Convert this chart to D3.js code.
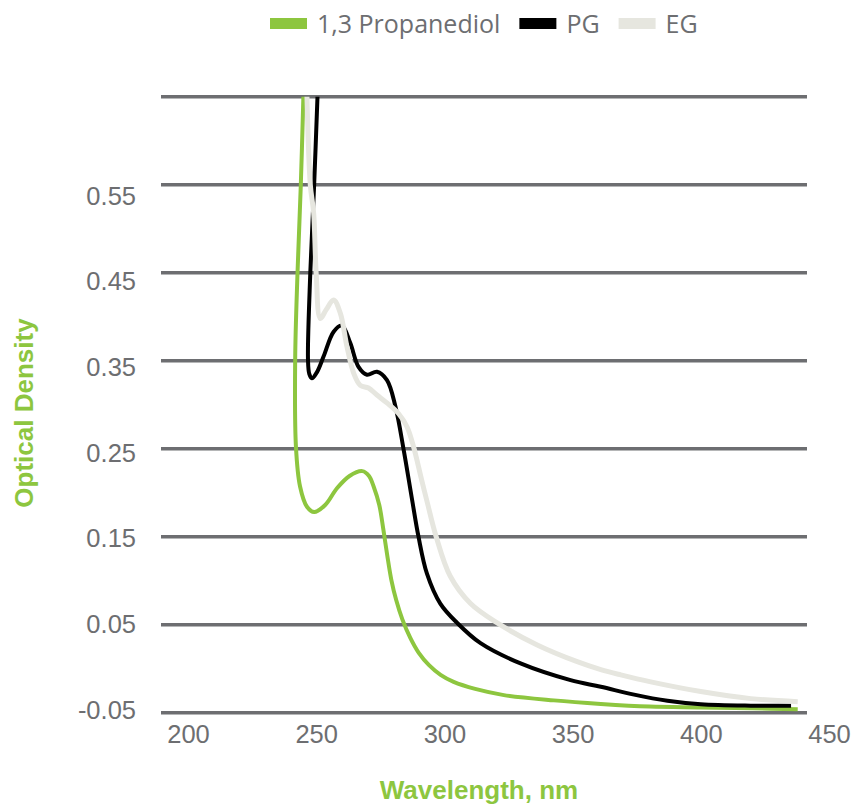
<!DOCTYPE html>
<html>
<head>
<meta charset="utf-8">
<script src="https://cdn.jsdelivr.net/npm/d3@7/dist/d3.min.js"></script>
<style>
  html, body { margin: 0; padding: 0; background: #ffffff; }
  svg { display: block; }
</style>
</head>
<body>
<svg id="chart" width="858" height="805"></svg>
<script>
// ---------- data ----------
const seriesNames = ["1,3 Propanediol", "PG", "EG"];
const seriesColors = ["#8dc63f", "#000000", "#e6e6df"];

const wavelengthTicks = [200, 250, 300, 350, 400, 450];
const odTicks = [-0.05, 0.05, 0.15, 0.25, 0.35, 0.45, 0.55];
const gridValues = [-0.05, 0.05, 0.15, 0.25, 0.35, 0.45, 0.55, 0.65];

// [wavelength nm, optical density]
const propanediol = [
  [245.0, 0.65], [244.0, 0.55], [242.7, 0.449], [241.8, 0.351], [242.1, 0.252],
  [243.7, 0.207], [246.4, 0.184], [249.2, 0.178], [253.5, 0.186], [258.1, 0.205],
  [263.0, 0.219], [268.0, 0.2245], [270.6, 0.219], [272.4, 0.207], [274.6, 0.186],
  [276.2, 0.158], [277.7, 0.129], [279.3, 0.101], [281.2, 0.078], [283.6, 0.056],
  [286.7, 0.035], [290.0, 0.018], [294.0, 0.004], [298.5, -0.007], [303.6, -0.015],
  [312.0, -0.023], [323.2, -0.030], [342.7, -0.036], [361.0, -0.040], [380.0, -0.043],
  [400.0, -0.044], [420.0, -0.045], [437.8, -0.046]
];
const pg = [
  [250.5, 0.65], [249.2, 0.55], [247.7, 0.45], [246.8, 0.351], [247.3, 0.335],
  [248.3, 0.330], [250.3, 0.337], [252.9, 0.355], [256.8, 0.383], [260.0, 0.390],
  [263.3, 0.370], [266.5, 0.343], [269.8, 0.334], [273.7, 0.3375], [277.6, 0.328],
  [280.9, 0.298], [284.1, 0.249], [287.4, 0.192], [289.9, 0.150], [293.2, 0.108],
  [298.4, 0.074], [305.0, 0.052], [314.1, 0.029], [329.7, 0.006], [349.2, -0.013],
  [361.0, -0.0205], [374.0, -0.0295], [387.0, -0.0365], [400.0, -0.0405], [419.5, -0.042],
  [435.2, -0.042]
];
const eg = [
  [246.4, 0.65], [247.7, 0.55], [249.0, 0.518], [250.0, 0.449], [251.6, 0.398],
  [253.9, 0.408], [256.8, 0.419], [259.4, 0.404], [262.0, 0.366], [264.6, 0.336],
  [267.2, 0.322], [270.4, 0.319], [273.7, 0.311], [277.6, 0.302], [282.1, 0.290],
  [285.4, 0.275], [288.0, 0.252], [291.0, 0.216], [293.4, 0.188], [296.8, 0.150],
  [302.3, 0.105], [310.2, 0.074], [320.6, 0.052], [336.2, 0.027], [351.8, 0.008],
  [361.0, -0.001], [368.8, -0.007], [380.5, -0.015], [400.0, -0.026], [419.5, -0.034],
  [437.8, -0.0375]
];
const seriesData = [propanediol, pg, eg];
const seriesWidths = [4, 4, 5];

// ---------- layout ----------
const svg = d3.select("#chart");
const gray = "#6d6e71";
const green = "#8dc63f";
const plotLeft = 161, plotRight = 807;

const x = d3.scaleLinear().domain([200, 450]).range([188, 829]);
const y = d3.scaleLinear().domain([-0.05, 0.65]).range([712.7, 96.7]);
const yLabel = d3.scaleLinear().domain([-0.05, 0.55]).range([710, 196]);

// gridlines
svg.append("g").selectAll("line").data(gridValues).join("line")
  .attr("x1", plotLeft).attr("x2", plotRight)
  .attr("y1", d => y(d)).attr("y2", d => y(d))
  .attr("stroke", gray).attr("stroke-width", 3.4);

// y tick labels
const yAxis = svg.append("g").attr("transform", "translate(136,0)")
  .call(d3.axisLeft(yLabel).tickValues(odTicks).tickSize(0).tickPadding(0)
    .tickFormat(d => d.toFixed(2)));
yAxis.select(".domain").remove();
yAxis.selectAll("text").attr("fill", gray)
  .style("font-family", "'Liberation Sans', Arial, sans-serif").style("font-size", "25.5px");

// x tick labels
const xAxis = svg.append("g").attr("transform", "translate(0,725)")
  .call(d3.axisBottom(x).tickValues(wavelengthTicks).tickSize(0).tickPadding(0)
    .tickFormat(d3.format("d")));
xAxis.select(".domain").remove();
xAxis.selectAll("text").attr("fill", gray)
  .style("font-family", "'Liberation Sans', Arial, sans-serif").style("font-size", "25.5px");

// curves
const line = d3.line().x(d => x(d[0])).y(d => y(d[1])).curve(d3.curveCatmullRom.alpha(0.5));
svg.append("g").selectAll("path").data(seriesData).join("path")
  .attr("d", d => line(d))
  .attr("fill", "none")
  .attr("stroke", (d, i) => seriesColors[i])
  .attr("stroke-width", (d, i) => seriesWidths[i])
  .attr("stroke-linejoin", "round");

// axis titles
svg.append("text").text("Wavelength, nm")
  .attr("x", 479).attr("y", 799).attr("text-anchor", "middle")
  .attr("fill", green)
  .style("font-family", "'Liberation Sans', Arial, sans-serif")
  .style("font-weight", "bold").style("font-size", "26px");

svg.append("text").text("Optical Density")
  .attr("transform", "translate(33,413) rotate(-90)")
  .attr("text-anchor", "middle")
  .attr("fill", green)
  .style("font-family", "'Liberation Sans', Arial, sans-serif")
  .style("font-weight", "bold").style("font-size", "26px");

// legend
const legend = svg.append("g");
let lx = 270;
seriesNames.forEach((name, i) => {
  legend.append("rect").attr("x", lx).attr("y", 18).attr("width", 37).attr("height", 11)
    .attr("fill", seriesColors[i]);
  const t = legend.append("text").text(name)
    .attr("x", lx + 47).attr("y", 33)
    .attr("fill", gray)
    .style("font-family", "'Open Sans', sans-serif").style("font-size", "25px");
  lx = lx + 47 + t.node().getComputedTextLength() + 19;
});
</script>
</body>
</html>
